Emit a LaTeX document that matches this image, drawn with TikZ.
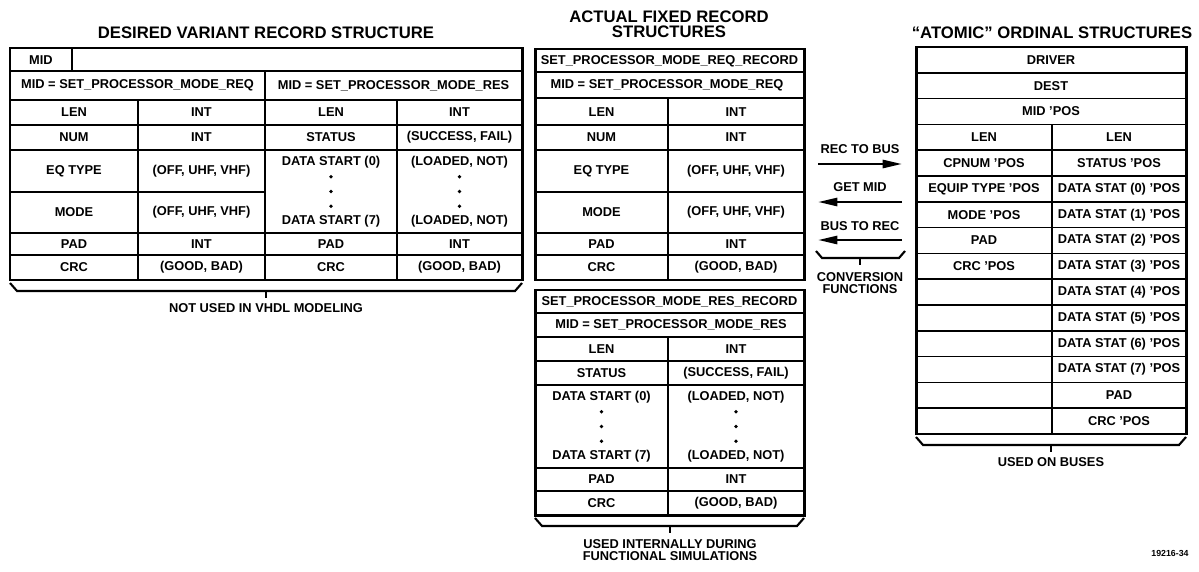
\documentclass[tikz,border=0pt]{standalone}
\usepackage{fontspec}
\setmainfont{Liberation Sans}
\usetikzlibrary{arrows.meta, positioning}

\begin{document}
\begin{tikzpicture}[
x=0.02cm, y=-0.02cm,
every node/.style={inner sep=0pt, font=\fontsize{7.3}{6.8}\selectfont\bfseries, align=center},
heading/.style={font=\fontsize{9.5}{8.5}\selectfont\bfseries},
outer/.style={line width=1.7pt},
grid/.style={line width=1pt},
conv/.style={-{Triangle[length=11pt,width=4.6pt]}, line width=1.4pt},
bracket/.style={line width=1.2pt}
]
\useasboundingbox (0,0) rectangle (1199,571);

% titles
\node[heading] (tvar) at (266,33) {DESIRED VARIANT RECORD STRUCTURE};
\node[heading] (tfix) at (669,24) {ACTUAL FIXED RECORD\\STRUCTURES};
\node[heading] (tatom) at (1052,33) {``ATOMIC'' ORDINAL STRUCTURES};

% desired variant record
\foreach \y in {71,100,125,150,233,255}
  \draw[grid] (10,\y) -- (522,\y);
\draw[grid] (10,192) -- (265,192);
\draw[grid] (72,48) -- (72,71);
\draw[grid] (265,71) -- (265,280);
\draw[grid] (138,100) -- (138,280);
\draw[grid] (397,100) -- (397,280);
\draw[outer] (10,48) rectangle (522,280);

\node (vmid) at (41,60) {MID};
\node (vreq) at (137.5,85.5) {MID = SET\_PROCESSOR\_MODE\_REQ};
\node (vres) at (393.5,85.5) {MID = SET\_PROCESSOR\_MODE\_RES};
\node (vlen) at (74,112.5) {LEN};
\node (vlenv) at (201.5,112.5) {INT};
\node (vnum) at (74,137.5) {NUM};
\node (vnumv) at (201.5,137.5) {INT};
\node (veq) at (74,171) {EQ TYPE};
\node (veqv) at (201.5,171) {(OFF, UHF, VHF)};
\node (vmode) at (74,212.5) {MODE};
\node (vmodev) at (201.5,212.5) {(OFF, UHF, VHF)};
\node (vpad) at (74,244) {PAD};
\node (vpadv) at (201.5,244) {INT};
\node (vcrc) at (74,267.5) {CRC};
\node (vcrcv) at (201.5,267.5) {(GOOD, BAD)};
\node (wlen) at (331,112.5) {LEN};
\node (wlenv) at (459.5,112.5) {INT};
\node (wstat) at (331,137.5) {STATUS};
\node (wstatv) at (459.5,137.5) {(SUCCESS, FAIL)};
\node (wds0) at (331,162) {DATA START (0)};
\node (wds0v) at (459.5,162) {(LOADED, NOT)};
\node (wds7) at (331,221) {DATA START (7)};
\node (wds7v) at (459.5,221) {(LOADED, NOT)};
\foreach \y in {176.75,191.5,206.25} {
  \fill (331,\y) circle (1.9);
  \fill (459.5,\y) circle (1.9);
}
\node (wpad) at (331,244) {PAD};
\node (wpadv) at (459.5,244) {INT};
\node (wcrc) at (331,267.5) {CRC};
\node (wcrcv) at (459.5,267.5) {(GOOD, BAD)};

\draw[bracket] (10,283) -- (17,291) -- (515,291) -- (522,283);
\draw[bracket] (266,291) -- (266,298);
\node (nvhdl) at (266,308) {NOT USED IN VHDL MODELING};

% fixed record, request
\foreach \y in {72,98,125,150,192,233,255}
  \draw[grid] (535,\y) -- (804,\y);
\draw[grid] (668,98) -- (668,280);
\draw[outer] (535,49) rectangle (804,280);

\node (qrec) at (669.5,61) {SET\_PROCESSOR\_MODE\_REQ\_RECORD};
\node (qmid) at (667,85) {MID = SET\_PROCESSOR\_MODE\_REQ};
\node (qlen) at (601.5,112.5) {LEN};
\node (qlenv) at (736,112.5) {INT};
\node (qnum) at (601.5,137.5) {NUM};
\node (qnumv) at (736,137.5) {INT};
\node (qeq) at (601.5,171) {EQ TYPE};
\node (qeqv) at (736,171) {(OFF, UHF, VHF)};
\node (qmode) at (601.5,212.5) {MODE};
\node (qmodev) at (736,212.5) {(OFF, UHF, VHF)};
\node (qpad) at (601.5,244) {PAD};
\node (qpadv) at (736,244) {INT};
\node (qcrc) at (601.5,267.5) {CRC};
\node (qcrcv) at (736,267.5) {(GOOD, BAD)};

% fixed record, response
\foreach \y in {313,337,361,385,468,491}
  \draw[grid] (535,\y) -- (804,\y);
\draw[grid] (668,337) -- (668,515);
\draw[outer] (535,290) rectangle (804,515);

\node (srec) at (669.5,301.5) {SET\_PROCESSOR\_MODE\_RES\_RECORD};
\node (smid) at (671,325) {MID = SET\_PROCESSOR\_MODE\_RES};
\node (slen) at (601.5,349) {LEN};
\node (slenv) at (736,349) {INT};
\node (sstat) at (601.5,373) {STATUS};
\node (sstatv) at (736,373) {(SUCCESS, FAIL)};
\node (sds0) at (601.5,397) {DATA START (0)};
\node (sds0v) at (736,397) {(LOADED, NOT)};
\node (sds7) at (601.5,456) {DATA START (7)};
\node (sds7v) at (736,456) {(LOADED, NOT)};
\foreach \y in {411.75,426.5,441.25} {
  \fill (601.5,\y) circle (1.9);
  \fill (736,\y) circle (1.9);
}
\node (spad) at (601.5,479.5) {PAD};
\node (spadv) at (736,479.5) {INT};
\node (scrc) at (601.5,503) {CRC};
\node (scrcv) at (736,503) {(GOOD, BAD)};

\draw[bracket] (535,518) -- (542,526) -- (797,526) -- (804,518);
\draw[bracket] (670,526) -- (670,533);
\node (sint) at (670,550) {USED INTERNALLY DURING\\FUNCTIONAL SIMULATIONS};

% conversion functions
\node (rtb) at (860,149) {REC TO BUS};
\coordinate (rtb1) at (818,164);
\coordinate (rtb2) at (902,164);
\draw[conv] (rtb1) -- (rtb2);
\node (gmid) at (860,187) {GET MID};
\coordinate (gmid1) at (902,202);
\coordinate (gmid2) at (818,202);
\draw[conv] (gmid1) -- (gmid2);
\node (btr) at (860,226) {BUS TO REC};
\coordinate (btr1) at (902,240);
\coordinate (btr2) at (818,240);
\draw[conv] (btr1) -- (btr2);
\draw[bracket] (816,251) -- (822,258) -- (899,258) -- (905,251);
\draw[bracket] (860,258) -- (860,265);
\node (cfun) at (860,283) {CONVERSION\\FUNCTIONS};

% atomic ordinal structures
\foreach \i in {1,...,14}
  \draw[grid] (916,{47+\i*25.8}) -- (1186,{47+\i*25.8});
\draw[grid] (1052,124.4) -- (1052,434);
\draw[outer] (916,47) rectangle (1186,434);

\node (adrv) at (1051,59.9) {DRIVER};
\node (adest) at (1051,85.7) {DEST};
\node (amid) at (1051,111.5) {MID 'POS};
\node (alen) at (984,137.3) {LEN};
\node (acpn) at (984,163.1) {CPNUM 'POS};
\node (aeq) at (984,188.9) {EQUIP TYPE 'POS};
\node (amode) at (984,214.7) {MODE 'POS};
\node (apad) at (984,240.5) {PAD};
\node (acrc) at (984,266.3) {CRC 'POS};
\node (blen) at (1119,137.3) {LEN};
\node (bstat) at (1119,163.1) {STATUS 'POS};
\foreach \k in {0,...,7}
  \node (bds\k) at (1119,{188.9+\k*25.8}) {DATA STAT (\k) 'POS};
\node (bpad) at (1119,395.3) {PAD};
\node (bcrc) at (1119,421.1) {CRC 'POS};

\draw[bracket] (916,437) -- (923,445) -- (1179,445) -- (1186,437);
\draw[bracket] (1051,445) -- (1051,452);
\node (abus) at (1051,462) {USED ON BUSES};

\node[font=\fontsize{5}{6}\selectfont\bfseries] (fignum) at (1170,553) {19216-34};
\end{tikzpicture}
\end{document}
